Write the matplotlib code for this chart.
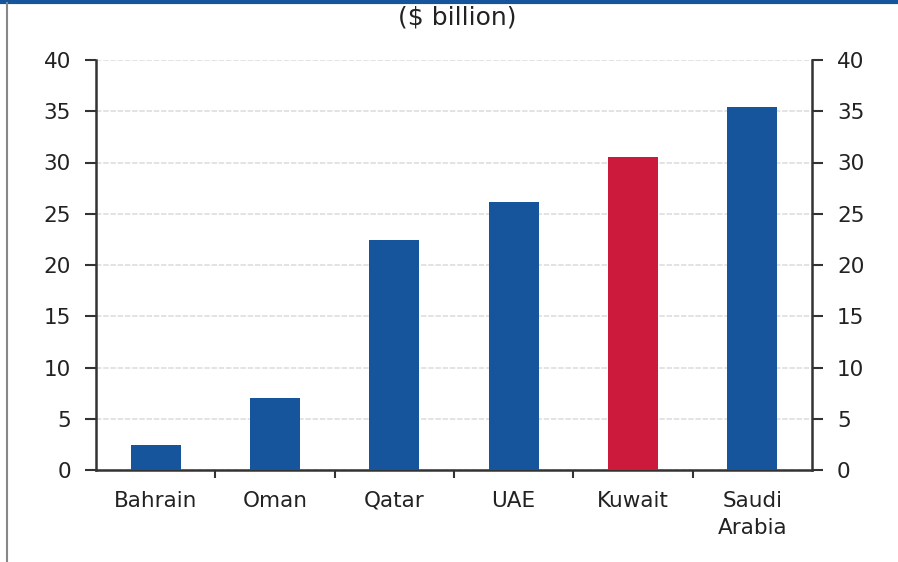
import matplotlib
matplotlib.use("Agg")
import matplotlib.pyplot as plt
from matplotlib.lines import Line2D

categories = ["Bahrain", "Oman", "Qatar", "UAE", "Kuwait", "Saudi\nArabia"]
values = [2.4, 7.0, 22.4, 26.1, 30.5, 35.4]
colors = ["#16559b", "#16559b", "#16559b", "#16559b", "#cc1a3d", "#16559b"]
yticks = [0, 5, 10, 15, 20, 25, 30, 35, 40]

plt.rcParams['font.family'] = ['DejaVu Sans']

fig = plt.figure(figsize=(8.98, 5.62), dpi=100)
ax = fig.add_axes([96/898, 1-470/562, (812-96)/898, (470-60)/562])

x = range(len(categories))
ax.bar(x, values, width=0.42, color=colors, zorder=3)
ax.set_xlim(-0.5, len(categories)-0.5)
ax.set_ylim(0, 40)
ax.set_yticks(yticks)
ax.set_yticklabels([str(v) for v in yticks], fontsize=15.5, color="#222222")
ax.tick_params(axis='y', direction='out', length=8, width=1.5, color="#333333", pad=10,
               right=True, labelright=True)
ax.set_xticks([i + 0.5 for i in range(len(categories)-1)])
ax.set_xticklabels([])
ax.set_xticks(list(x), minor=True)
ax.set_xticklabels(categories, minor=True, fontsize=15.5, color="#222222", linespacing=1.45)
ax.tick_params(axis='x', which='minor', length=0, pad=15)
ax.tick_params(axis='x', which='major', direction='out', length=6, width=1.5, color="#333333")

ax.grid(axis='y', color="#e0e0e0", linestyle=(0, (3, 1)), linewidth=1.3, zorder=0)
for s in ['left', 'right', 'bottom']:
    ax.spines[s].set_color("#333333")
    ax.spines[s].set_linewidth(1.8)
ax.spines['top'].set_visible(False)

fig.text(457/898, 1-18/562, "($ billion)", ha='center', va='center', fontsize=18, color="#222222")

# frame decorations: blue top rule and grey left rule
fig.add_artist(Line2D([0, 1], [1-1.5/562, 1-1.5/562], color="#16559b", linewidth=3, transform=fig.transFigure))
fig.add_artist(Line2D([7/898, 7/898], [0, 1-3/562], color="#888888", linewidth=1.5, transform=fig.transFigure))

fig.savefig("out.png", dpi=100)
